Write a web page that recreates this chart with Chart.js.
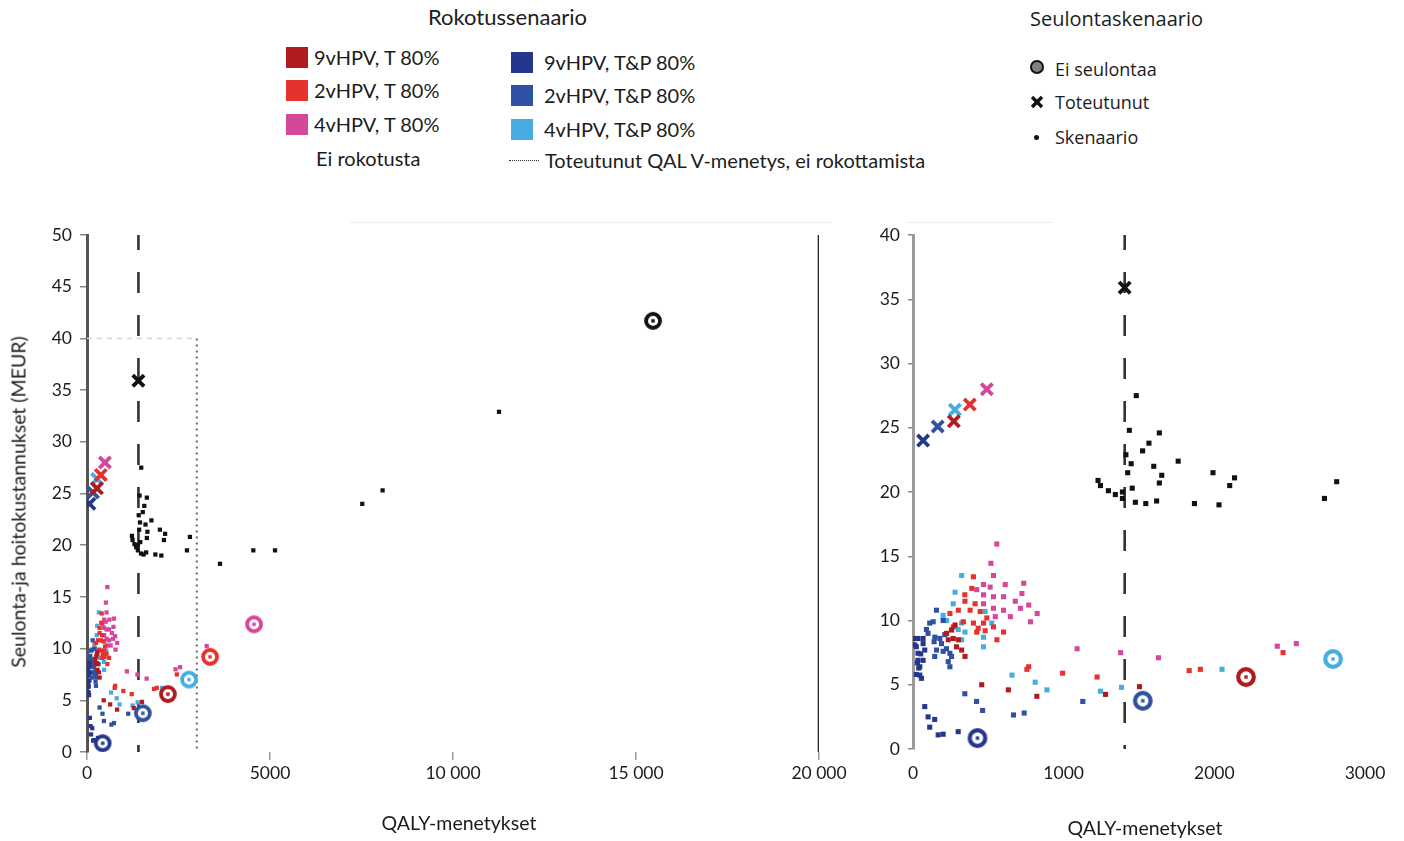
<!DOCTYPE html>
<html><head><meta charset="utf-8">
<script src="https://cdn.jsdelivr.net/npm/chart.js@4.4.1/dist/chart.umd.min.js"></script>
<style>
body{margin:0;background:#fff;width:1404px;height:841px;position:relative;overflow:hidden;font-family:Lato,sans-serif;color:#1c1c1c}
.abs{position:absolute;white-space:nowrap}
canvas{position:absolute}
</style></head>
<body>
<canvas id="left" width="850" height="641" style="left:0;top:200px"></canvas>
<canvas id="right" width="554" height="641" style="left:850px;top:200px"></canvas>
<div id="legend"></div>
<script>
// ---------------- DATA ----------------
const series = ['9vHPV, T 80%','2vHPV, T 80%','4vHPV, T 80%','9vHPV, T&P 80%','2vHPV, T&P 80%','4vHPV, T&P 80%','Ei rokotusta'];
// "Ei seulontaa" (no screening) points
const eiSeulontaaQaly = [2210, 3361, 4563, 428, 1525, 2788, 15465];
const eiSeulontaaCost = [5.6, 9.2, 12.35, 0.85, 3.75, 7.0, 41.7];
// "Toteutunut" (realised screening) points
const toteutunutQaly = [271, 377, 490, 67, 164, 278, 1405];
const toteutunutCost = [25.5, 26.8, 28.0, 24.0, 25.1, 26.4, 35.9];
// "Skenaario" points per vaccination scenario
const scen9vT_q = [223,267,289,234,279,256,345,323,301,456,633,822,1278,1503];
const scen9vT_c = [9.0,8.6,7.95,8.5,9.65,9.26,7.2,7.7,8.5,5.0,4.6,4.1,4.25,4.85];
const scen2vT_q = [401,390,345,412,301,379,446,490,334,401,468,423,479,534,601,557,245,267,768,756,993,1222,1833,1907,2456,344,433];
const scen2vT_c = [13.4,12.5,11.5,11.3,10.8,10.8,10.7,10.2,9.9,9.8,9.8,9.1,9.2,9.5,9.1,8.5,10.55,9.5,6.4,6.2,5.9,5.6,6.1,6.2,7.5,12.0,9.4];
const scen4vT_q = [556,517,534,468,512,612,735,723,423,468,534,601,679,768,468,534,601,713,824,780,646,546,1089,1378,1629,2418,2544,3270];
const scen4vT_c = [15.95,14.45,13.5,12.8,12.6,12.8,12.9,12.1,12.4,12.0,11.85,11.85,11.5,11.2,11.3,10.95,10.8,10.95,10.55,9.9,10.3,10.3,7.8,7.5,7.1,8.0,8.2,10.25];
const scen9vTP_q = [33,22,33,33,45,45,67,16,67,11,51,29,56,38,78,67,22,78,100,111,144,167,200,300];
const scen9vTP_c = [8.6,7.96,7.45,6.9,6.4,5.75,8.2,8.6,8.6,8.1,7.4,6.7,5.5,6.3,7.7,6.9,5.8,3.3,2.5,1.7,2.3,1.1,1.15,1.35];
const scen2vTP_q = [156,134,100,145,189,156,245,234,245,200,211,140,200,144,256,111,89,178,222,344,422,462,667,738,1127];
const scen2vTP_c = [10.8,9.9,9.0,8.7,8.2,7.7,7.45,6.8,6.4,10.0,8.9,8.35,7.6,7.2,7.2,9.8,9.3,8.6,7.8,4.3,3.7,3.0,2.65,2.8,3.7];
const scen4vTP_q = [323,279,267,200,223,323,345,323,468,523,468,657,811,889,1244,1384,2051,478,300];
const scen4vTP_c = [13.5,12.2,11.3,10.4,10.0,9.8,9.1,8.5,7.95,9.8,8.7,5.75,5.2,4.6,4.5,4.8,6.2,10.7,9.3];
const scenNone_q = [1482,1436,1635,1566,1524,1413,1760,1448,1598,1425,1991,1651,2134,2812,1228,1244,1635,2102,1455,1297,1343,1390,1390,1476,1545,1617,1868,2031,2731,3634,4544,5137,7521,8076,11257];
const scenNone_c = [27.5,24.8,24.6,23.8,23.2,22.9,22.4,22.2,22.0,21.5,21.5,21.3,21.1,20.8,20.9,20.5,20.7,20.5,20.3,20.1,19.8,20.0,19.5,19.2,19.1,19.3,19.1,19.0,19.5,18.2,19.5,19.5,24.0,25.3,32.9];
const scenQaly = [scen9vT_q, scen2vT_q, scen4vT_q, scen9vTP_q, scen2vTP_q, scen4vTP_q, scenNone_q];
const scenCost = [scen9vT_c, scen2vT_c, scen4vT_c, scen9vTP_c, scen2vTP_c, scen4vTP_c, scenNone_c];
// reference values
const refQalyLoss = 1405;          // realised QALY loss, no vaccination
const zoomBoxQaly = 3000, zoomBoxCost = 40;
const leftRange = {qMax: 20000, cMax: 50, qStep: 5000};
const rightRange = {qMax: 3000, cMax: 40, qStep: 1000};
const cStep = 5;

// ---------------- STYLE ----------------
const colors = ['#B01B1F','#E5322E','#D5479B','#25378D','#3050A2','#47ACE2','#111111'];

function ring(color, r, lw){
  const s = Math.ceil(2*(r+lw/2+1))+2, c = s/2;
  const cv = document.createElement('canvas'); cv.width = s; cv.height = s;
  const g = cv.getContext('2d');
  g.beginPath(); g.arc(c,c,r,0,Math.PI*2); g.fillStyle='#fff'; g.fill();
  g.lineWidth = lw; g.strokeStyle = color; g.stroke();
  g.fillStyle = color; g.fillRect(c-1.7,c-1.7,3.4,3.4);
  return cv;
}
function fmt(v){ return v >= 10000 ? String(v).replace(/\B(?=(\d{3})+(?!\d))/g,' ') : String(v); }
function pts(qs, cs){ return qs.map((q,i)=>({x:q, y:cs[i]})); }

function datasets(isLeft){
  const ds = [];
  const top = isLeft ? leftRange.cMax : rightRange.cMax;
  ds.push({type:'line', data:[{x:refQalyLoss,y:top},{x:refQalyLoss,y:0}], borderColor:'#333', borderWidth:2.6,
    borderDash:[21,22], borderDashOffset:6, borderCapStyle:'butt', pointRadius:0, order:30});
  if (isLeft){
    ds.push({type:'line', data:[{x:zoomBoxQaly,y:zoomBoxCost},{x:zoomBoxQaly,y:0}], borderColor:'#666', borderWidth:2,
      borderDash:[2,4], pointRadius:0, order:30});
    ds.push({type:'line', data:[{x:0,y:zoomBoxCost},{x:zoomBoxQaly,y:zoomBoxCost}], borderColor:'#d8d8d8', borderWidth:1.5,
      borderDash:[5,5], pointRadius:0, order:30});
    ds.push({type:'line', data:[{x:leftRange.qMax,y:0},{x:leftRange.qMax,y:leftRange.cMax}], borderColor:'#222', borderWidth:2.6,
      pointRadius:0, order:30});
  }
  for (let i=0;i<series.length;i++){
    ds.push({label:series[i]+' skenaario', data:pts(scenQaly[i],scenCost[i]), pointStyle:'rect',
      pointRadius: isLeft?3.0:3.6, backgroundColor:colors[i], borderWidth:0, order:10+i});
  }
  for (let i=0;i<series.length;i++){
    ds.push({label:series[i]+' toteutunut', data:[{x:toteutunutQaly[i],y:toteutunutCost[i]}], pointStyle:'crossRot',
      pointRadius:8, borderColor:colors[i], borderWidth:3.8, backgroundColor:colors[i], order:5});
  }
  for (let i=0;i<series.length;i++){
    ds.push({label:series[i]+' ei seulontaa', data:[{x:eiSeulontaaQaly[i],y:eiSeulontaaCost[i]}],
      pointStyle: isLeft ? ring(colors[i], 7, 3.8) : ring(colors[i], 7.8, 4.2), pointRadius:10, order:1});
  }
  return ds;
}

Chart.defaults.font.family = 'Lato';
Chart.defaults.color = '#1c1c1c';

function makeChart(id, isLeft){
  const R = isLeft ? leftRange : rightRange;
  const yW = isLeft ? 87 : 63, xH = isLeft ? 89 : 92;
  new Chart(document.getElementById(id), {
    type:'scatter',
    data:{datasets:datasets(isLeft)},
    options:{
      responsive:false, animation:false, events:[],
      layout:{padding:{left:0, right: isLeft?31:39, top:35, bottom:0}},
      plugins:{legend:{display:false}, tooltip:{enabled:false}},
      scales:{
        x:{type:'linear', min:0, max:R.qMax,
          ticks:{stepSize:R.qStep, autoSkip:false, maxRotation:0, font:{size:17.5}, color:'#1c1c1c',
            padding: isLeft?3:6, callback:(v)=>fmt(v)},
          grid:{display:true, drawOnChartArea:false, drawTicks:true, tickLength:8, lineWidth:1.5,
            color: isLeft ? '#999' : 'rgba(0,0,0,0)'},
          border:{display:false},
          afterFit:(s)=>{s.height=xH; s.paddingLeft=0; s.paddingRight=0;}},
        y:{type:'linear', min:0, max:R.cMax,
          ticks:{stepSize:cStep, autoSkip:false, font:{size:17.5}, color:'#1c1c1c', padding:8},
          grid:{display:true, drawOnChartArea:false, drawTicks:true, tickLength: isLeft?7:5, lineWidth:1.5, color:'#888'},
          border:{display:true, color: isLeft?'#555':'#9a9a9a', width:3},
          afterFit:(s)=>{s.width=yW; s.paddingTop=0; s.paddingBottom=0;}}
      }
    }
  });
}
makeChart('left', true);
makeChart('right', false);

// ---------------- LEGEND / TEXT ----------------
const L = document.getElementById('legend');
function add(html, style){ const d=document.createElement('div'); d.className='abs'; d.style.cssText=style; d.innerHTML=html; L.appendChild(d); return d; }
add('Rokotussenaario','left:428px;top:3px;font-size:22px;');
const rowY = [57, 90, 124], rowY2 = [62, 95, 129];
for (let k=0;k<3;k++){
  add('<span style="display:inline-block;width:22px;height:21px;background:'+colors[k]+';margin-right:6px"></span>'+series[k],
    'left:286px;top:'+(rowY[k]-12)+'px;height:24px;display:flex;align-items:center;font-size:20px;');
  add('<span style="display:inline-block;width:22px;height:21px;background:'+colors[k+3]+';margin-right:11px"></span>'+series[k+3],
    'left:511px;top:'+(rowY2[k]-12)+'px;height:24px;display:flex;align-items:center;font-size:20px;');
}
add(series[6], 'left:316px;top:146px;height:24px;line-height:24px;font-size:20px;');
add('<span style="display:inline-block;width:30px;border-top:1px dotted #333;margin-right:6px;vertical-align:middle"></span>Toteutunut QAL V-menetys, ei rokottamista',
  'left:509px;top:148px;height:24px;display:flex;align-items:center;font-size:20px;');

add('Seulontaskenaario','left:1030px;top:5px;font-size:20px;font-family:"Open Sans";');
add('<span style="display:inline-block;width:10px;height:10px;border:2.6px solid #111;border-radius:50%;background:#808080"></span>',
  'left:1030px;top:58px;');
add('<svg width="14" height="14"><line x1="2" y1="2" x2="12" y2="12" stroke="#111" stroke-width="3.4"/><line x1="12" y1="2" x2="2" y2="12" stroke="#111" stroke-width="3.4"/></svg>',
  'left:1030px;top:95px;line-height:0;');
add('<span style="display:inline-block;width:5px;height:5px;border-radius:50%;background:#111"></span>','left:1034px;top:134px;line-height:0;');
add('Ei seulontaa','left:1055px;top:57px;height:24px;line-height:24px;font-size:18px;font-family:"Open Sans";');
add('Toteutunut','left:1055px;top:90px;height:24px;line-height:24px;font-size:18px;font-family:"Open Sans";');
add('Skenaario','left:1055px;top:125px;height:24px;line-height:24px;font-size:18px;font-family:"Open Sans";');

// axis titles
add('QALY-menetykset','left:459px;top:811px;transform:translateX(-50%);font-size:19.5px;');
add('QALY-menetykset','left:1145px;top:816px;transform:translateX(-50%);font-size:19.5px;');
add('Seulonta-ja hoitokustannukset (MEUR)','left:18px;top:502px;transform:translate(-50%,-50%) rotate(-90deg);font-size:19.5px;');
// faint frame lines at top of plots
add('','left:350px;top:222px;width:482px;height:1px;background:#ececec;');
add('','left:906px;top:222px;width:147px;height:1px;background:#ececec;');
</script>
</body></html>
